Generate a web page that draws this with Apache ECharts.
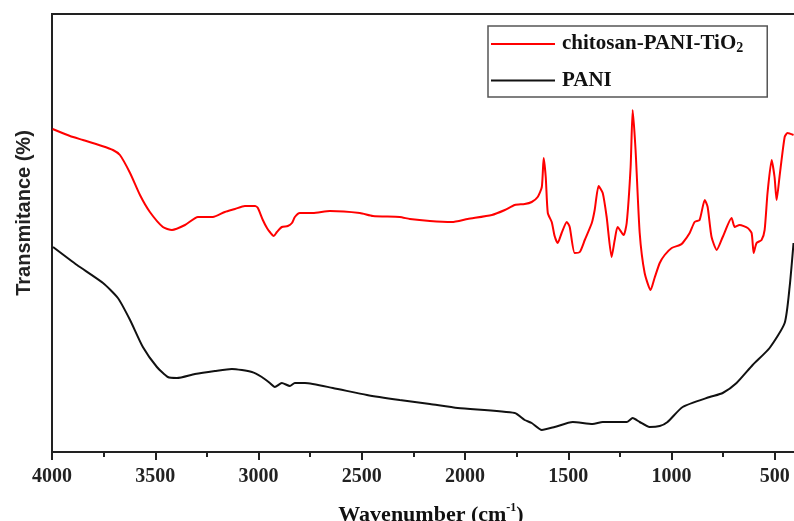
<!DOCTYPE html>
<html>
<head>
<meta charset="utf-8">
<script src="https://cdn.jsdelivr.net/npm/echarts@6/dist/echarts.min.js"></script>
<style>
  html, body { margin: 0; padding: 0; background: #fff; }
  #main { width: 794px; height: 521px; }
</style>
</head>
<body>
<div id="main"></div>
<script>
// FTIR spectra, values (arbitrary transmittance units)
var redWave = [3997, 3913, 3850, 3758, 3705, 3671, 3622, 3574, 3526, 3463, 3419, 3356, 3293, 3259, 3221, 3163,
  3114, 3066, 3017, 3003, 2979, 2959, 2945, 2926, 2911, 2887, 2858, 2838, 2824, 2800, 2775, 2737, 2654,
  2509, 2446, 2316, 2267, 2170, 2064, 1987, 1870, 1807, 1759, 1711, 1677, 1648, 1628, 1619, 1609, 1599,
  1580, 1566, 1551, 1532, 1507, 1493, 1469, 1444, 1420, 1386, 1372, 1353, 1333, 1314, 1290, 1275, 1261,
  1232, 1217, 1198, 1188, 1174, 1154, 1130, 1101, 1082, 1057, 1033, 999, 960, 946, 912, 888, 864, 839,
  825, 806, 781, 752, 709, 694, 670, 631, 612, 602, 588, 564, 549, 535, 515, 501, 491, 477, 452, 438, 409];
var redT = [323, 316, 312, 306, 302, 297, 279, 257, 240, 225, 222, 227, 235, 235, 235, 240,
  243, 246, 246, 244, 232, 224, 220, 216, 220, 225, 226, 229, 235, 239, 239, 239, 241,
  239, 236, 235, 233, 231, 230, 233, 237, 242, 247, 248, 250, 255, 265, 294, 275, 239,
  230, 216, 209, 219, 230, 225, 199, 200, 212, 229, 242, 266, 259, 235, 195, 212, 225,
  217, 229, 285, 342, 302, 219, 179, 162, 174, 189, 197, 204, 207, 209, 219, 230, 232, 252,
  245, 215, 202, 215, 234, 225, 227, 224, 219, 199, 209, 212, 222, 259, 292, 275, 252, 275, 315, 319, 317];

var blackWave = [3995, 3879, 3753, 3681, 3622, 3560, 3492, 3439, 3395, 3308, 3211, 3129, 3032, 2984, 2945,
  2921, 2887, 2848, 2824, 2775, 2640, 2475, 2316, 2170, 2035, 1759, 1711, 1677, 1628, 1566, 1478, 1382,
  1333, 1217, 1188, 1154, 1106, 1057, 1019, 946, 815, 752, 685, 607, 525, 452, 428, 409];
var blackT = [205, 187, 169, 154, 132, 105, 85, 75, 74, 78, 81, 83, 80, 75, 69,
  65, 69, 66, 69, 69, 64, 57, 52, 48, 44, 39, 32, 29, 22, 25, 30, 28,
  30, 30, 34, 30, 25, 26, 30, 45, 55, 59, 69, 87, 104, 129, 165, 209];

var seriesNames = ['chitosan-PANI-TiO2', 'PANI'];

function pairs(xs, ys) {
  return xs.map(function (x, i) { return [x, ys[i]]; });
}

var serif = 'Liberation Serif, Times New Roman, serif';

var myChart = echarts.init(document.getElementById('main'));
var option = {
  animation: false,
  backgroundColor: '#fff',
  grid: {
    left: 52, top: 14, width: 826, height: 438,
    outerBoundsMode: 'none',
    containLabel: false,
    show: true, borderColor: '#222', borderWidth: 2
  },
  title: {
    text: '{a|Wavenumber (cm}{s|-1}{a|)}',
    left: 426, top: 497, textAlign: 'center',
    textStyle: {
      rich: {
        a: { fontFamily: serif, fontWeight: 'bold', fontSize: 22, color: '#111', lineHeight: 26 },
        s: { fontFamily: serif, fontWeight: 'bold', fontSize: 12, color: '#111', verticalAlign: 'top', lineHeight: 26, padding: [0, 0, 10, 0] }
      }
    }
  },
  graphic: [{
    type: 'text',
    x: 24, y: 213,
    rotation: Math.PI / 2,
    style: {
      text: 'Transmitance (%)',
      fontFamily: 'Liberation Sans Narrow, Liberation Sans, Arial, sans-serif',
      fontWeight: 'bold', fontSize: 20, fill: '#222',
      textAlign: 'center', textVerticalAlign: 'middle'
    }
  }],
  legend: {
    left: 488, top: 26,
    orient: 'vertical',
    icon: 'rect',
    itemWidth: 64, itemHeight: 2, itemGap: 15,
    padding: [7, 24, 6, 3],
    borderColor: '#555', borderWidth: 1.5,
    data: seriesNames,
    formatter: function (name) {
      return name === 'PANI' ? '{a|PANI}' : '{a|chitosan-PANI-TiO}{s|2}';
    },
    textStyle: {
      padding: [0, 0, 0, 2],
      rich: {
        a: { fontFamily: serif, fontWeight: 'bold', fontSize: 21, color: '#111', lineHeight: 22 },
        s: { fontFamily: serif, fontWeight: 'bold', fontSize: 14, color: '#111', verticalAlign: 'bottom', lineHeight: 22, padding: [8, 0, 0, 0] }
      }
    }
  },
  xAxis: {
    type: 'value',
    inverse: true,
    min: 0, max: 4000, interval: 500,
    axisLine: { show: true, lineStyle: { color: '#222', width: 2 } },
    axisTick: { show: true, inside: false, length: 8, lineStyle: { color: '#222', width: 2 } },
    minorTick: { show: true, splitNumber: 2, length: 5, lineStyle: { color: '#222', width: 2 } },
    axisLabel: {
      margin: 15, fontFamily: serif, fontWeight: 'bold', fontSize: 20, color: '#222',
      formatter: function (v) { return v === 0 ? '' : v; }
    },
    splitLine: { show: false }
  },
  yAxis: {
    type: 'value',
    min: 0, max: 438,
    axisLine: { show: true, lineStyle: { color: '#222', width: 2 } },
    axisTick: { show: false },
    axisLabel: { show: false },
    splitLine: { show: false }
  },
  series: [
    {
      name: seriesNames[0],
      type: 'line',
      data: pairs(redWave, redT),
      showSymbol: false, symbol: 'none',
      smooth: 0.2,
      lineStyle: { color: '#ff0000', width: 2 },
      itemStyle: { color: '#ff0000' }
    },
    {
      name: seriesNames[1],
      type: 'line',
      data: pairs(blackWave, blackT),
      showSymbol: false, symbol: 'none',
      smooth: 0.2,
      lineStyle: { color: '#111', width: 2 },
      itemStyle: { color: '#111' }
    }
  ]
};
myChart.setOption(option);
</script>
</body>
</html>
